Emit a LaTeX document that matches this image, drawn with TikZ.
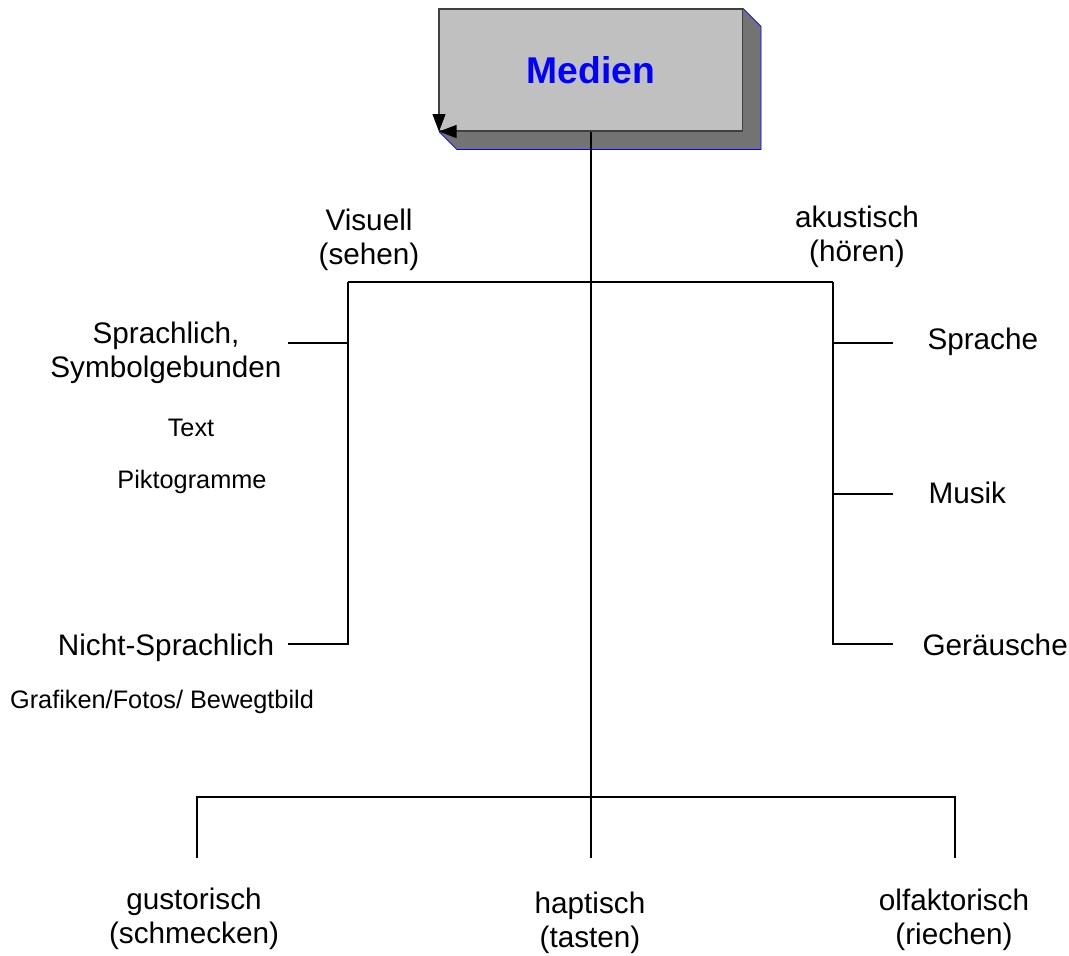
\documentclass[tikz,border=0pt]{standalone}
\usepackage{fontspec}
\setmainfont{Liberation Sans}
\usepackage{tikz}
\usetikzlibrary{arrows.meta}
\usetikzlibrary{calc}
\usetikzlibrary{backgrounds}
\definecolor{medien-front}{HTML}{C0C0C0}
\definecolor{medien-side}{HTML}{737373}
\definecolor{medien-edge}{HTML}{0000FF}

\begin{document}
\begin{tikzpicture}[x=0.02cm, y=-0.02cm, line width=0.6pt,
    lab/.style={font=\fontsize{16.9}{19.5}\selectfont, align=center, inner sep=0pt},
    sublab/.style={font=\fontsize{14.4}{17}\selectfont, inner sep=0pt},
    corner/.style={draw=black!75, -{Triangle[length=0.35cm, width=0.26cm, color=black]}}]

    \useasboundingbox (0,0) rectangle (1069,956);

    % box
    \node[fill=medien-front, draw=black!75, minimum width=6.06cm, minimum height=2.44cm, inner sep=0pt,
          font=\fontsize{21.2}{25}\selectfont\bfseries, text=medien-edge] (medien) at (591,70) {Medien};
    \begin{scope}[on background layer]
        \fill[medien-side] (medien.north east) -- ++(18,18) -- ($(medien.south east)+(18,18)$)
            -- ($(medien.south west)+(18,18)$) -- (medien.south west) -- (medien.south east) -- cycle;
        \draw[medien-edge] (medien.north east) -- ++(18,18) -- ($(medien.south east)+(18,18)$)
            -- ($(medien.south west)+(18,18)$) -- (medien.south west);
    \end{scope}
    \draw[corner] (medien.north west) -- (medien.south west);
    \draw[corner] (medien.south east) -- (medien.south west);

    % labels
    \node[lab] (visuell) at (369,240) {Visuell\\(sehen)};
    \node[lab] (akustisch) at (857,237) {akustisch\\(hören)};
    \node[lab] (sprachlich) at (166,353) {Sprachlich,\\Symbolgebunden};
    \node[sublab, anchor=base] (text) at (191,437) {Text};
    \node[sublab, anchor=base] (pikto) at (192,488) {Piktogramme};
    \node[lab, anchor=base] (nichtsprachlich) at (166,655) {Nicht-Sprachlich};
    \node[sublab, anchor=base] (grafiken) at (162,708) {Grafiken/Fotos/ Bewegtbild};
    \node[lab, anchor=base west] (sprache) at (927,350) {Sprache};
    \node[lab, anchor=base west] (musik) at (928,503) {Musik};
    \node[lab, anchor=base west] (geraeusche) at (922,655) {Geräusche};
    \node[lab] (gustorisch) at (194,919) {gustorisch\\(schmecken)};
    \node[lab] (haptisch) at (590,923) {haptisch\\(tasten)};
    \node[lab] (olfaktorisch) at (954,920) {olfaktorisch\\(riechen)};

    % tree
    \coordinate (vtop) at (348,282);
    \coordinate (atop) at (833,282);
    \coordinate (vbot) at (348,644);
    \coordinate (abot) at (833,644);
    \coordinate (spr-end) at (288,343);
    \coordinate (nsp-end) at (288,644);
    \coordinate (sprache-end) at (893,343);
    \coordinate (musik-end) at (893,494);
    \coordinate (geraeusche-end) at (893,644);
    \coordinate (gleft) at (197,797);
    \coordinate (gright) at (955,797);
    \coordinate (gust-end) at (197,858);
    \coordinate (hapt-end) at (591,858);
    \coordinate (olf-end) at (955,858);

    \draw (medien.south) -- (hapt-end);
    \draw (vtop) -- (atop);
    \draw (vtop) -- (vbot) -- (nsp-end);
    \draw (spr-end) -- (spr-end -| vtop);
    \draw (atop) -- (abot) -- (geraeusche-end);
    \draw (sprache-end -| atop) -- (sprache-end);
    \draw (musik-end -| atop) -- (musik-end);
    \draw (gust-end) -- (gleft) -- (gright) -- (olf-end);

\end{tikzpicture}
\end{document}
